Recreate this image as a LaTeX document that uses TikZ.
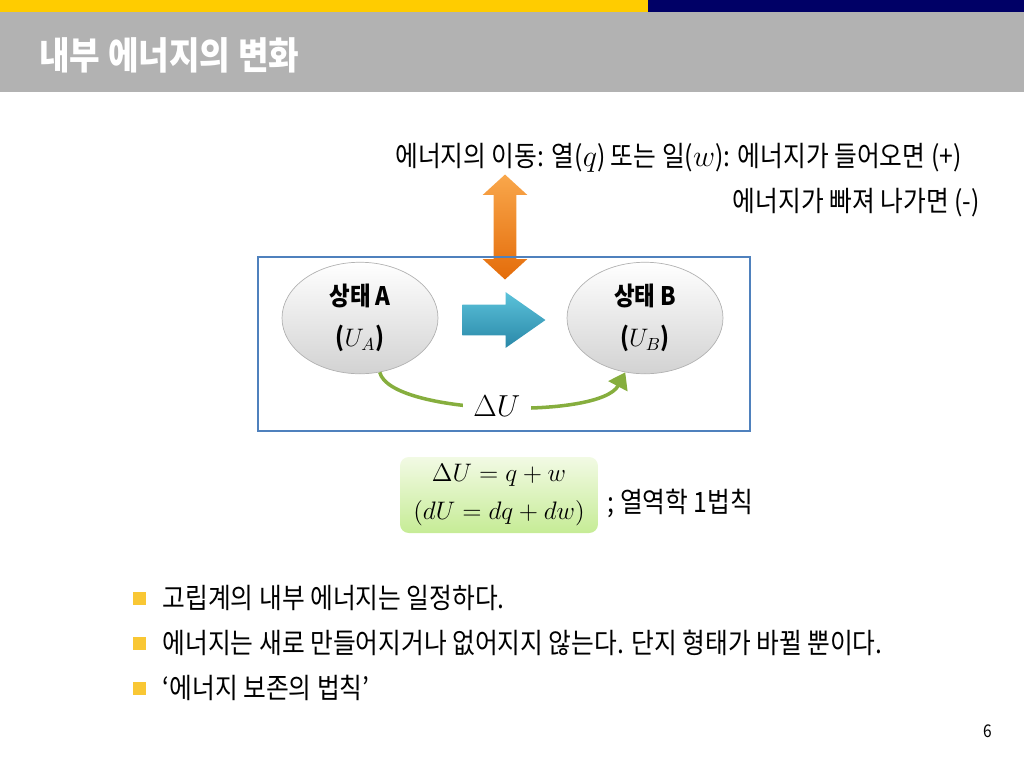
\documentclass[tikz,border=0pt]{standalone}
\usepackage{fontspec}
\setmainfont{Noto Sans CJK KR}[FakeStretch=0.88]
\usetikzlibrary{positioning,shapes.geometric,shapes.arrows,arrows.meta}

\definecolor{topyellow}{HTML}{FFCC00}
\definecolor{topnavy}{HTML}{000066}
\definecolor{bandgray}{HTML}{B2B2B2}
\definecolor{boxblue}{HTML}{4F81BD}
\definecolor{flowlight}{HTML}{F9A74B}
\definecolor{flowdark}{HTML}{E46C0A}
\definecolor{steplight}{HTML}{5BC2DA}
\definecolor{stepdark}{HTML}{2A88A8}
\definecolor{dugreen}{HTML}{86AE3E}
\definecolor{lawlight}{HTML}{F2FAE4}
\definecolor{lawdark}{HTML}{C6EC96}
\definecolor{bulletyellow}{HTML}{F9C734}

\tikzset{
	bodytext/.style={font=\fontsize{16}{19}\selectfont, inner sep=0pt},
	stateball/.style={ellipse, draw=gray!60, top color=white, bottom color=gray!35,
		minimum width=3.12cm, minimum height=2.08cm, align=center,
		font=\bfseries\fontsize{14.5}{23}\selectfont},
	flowarrow/.style={double arrow, rotate=90, inner xsep=0pt, inner ysep=0.22cm,
		double arrow head extend=0.22cm, double arrow tip angle=95,
		minimum height=2.1cm, top color=flowlight, bottom color=flowdark},
	steparrow/.style={single arrow, inner xsep=0pt, inner ysep=0.3cm,
		single arrow head extend=0.25cm, single arrow tip angle=70,
		minimum height=1.66cm, top color=steplight, bottom color=stepdark},
	duarrow/.style={dugreen, line width=2pt, -{Triangle[length=9pt,width=12pt]}},
	dulabel/.style={fill=white, text=black, inner sep=0pt, minimum width=1.36cm, minimum height=0.84cm,
		font=\fontsize{17}{20}\selectfont},
	lawbox/.style={rounded corners=5pt, top color=lawlight, bottom color=lawdark,
		minimum width=3.96cm, minimum height=1.52cm, align=center,
		font=\fontsize{15}{22}\selectfont},
	bulletsq/.style={fill=bulletyellow, inner sep=0pt, minimum size=0.26cm}
}

\begin{document}
\begin{tikzpicture}[x=0.02cm, y=-0.02cm]
	\useasboundingbox (0,0) rectangle (1024,768);
	% header
	\fill[topyellow] (0,0) rectangle (648,12);
	\fill[topnavy] (648,0) rectangle (1024,12);
	\fill[bandgray] (0,12) rectangle (1024,92);
	\node[anchor=west, text=white, inner sep=0pt, font=\bfseries\fontsize{21.5}{26}\selectfont] (title) at (39,55) {내부 에너지의 변화};

	% energy flow
	\node[bodytext, anchor=west] (flowin) at (395,158) {에너지의 이동: 열($q$) 또는 일($w$): 에너지가 들어오면 (+)};
	\node[bodytext, anchor=east] (flowout) at (980,203) {에너지가 빠져 나가면 (-)};
	\node[flowarrow] (flow) at (505,227) {};

	% states
	\draw[boxblue, line width=1.5pt] (258,257) rectangle (750,431);
	\node[stateball] (stA) at (360,318) {상태 A\\(\mdseries$U_A$\bfseries)};
	\node[stateball] (stB) at (645,318) {상태 B\\(\mdseries$U_B$\bfseries)};
	\node[steparrow] (step) at (493,320) {};
	\draw[duarrow] (stA.290) .. controls (390,415) and (600,420) .. (stB.250)
		node[pos=0.5, dulabel] (dU) {$\Delta U$};

	% first law
	\node[lawbox] (law) at (499,495) {$\Delta U = q + w$\\$(dU = dq + dw)$};
	\node[bodytext, right=0.18cm of law, yshift=-0.16cm] (lawname) {; 열역학 1법칙};

	% bullets
	\foreach \yy/\txt [count=\i] in {598/고립계의 내부 에너지는 일정하다., 643/에너지는 새로 만들어지거나 없어지지 않는다. 단지 형태가 바뀔 뿐이다., 688/‘에너지 보존의 법칙’} {
		\node[bulletsq] (sq\i) at (139.5,\yy) {};
		\node[bodytext, right=0.32cm of sq\i] (pt\i) {\txt};
	}

	\node[font=\fontsize{10}{12}\selectfont] (page) at (988,731) {6};
\end{tikzpicture}
\end{document}
